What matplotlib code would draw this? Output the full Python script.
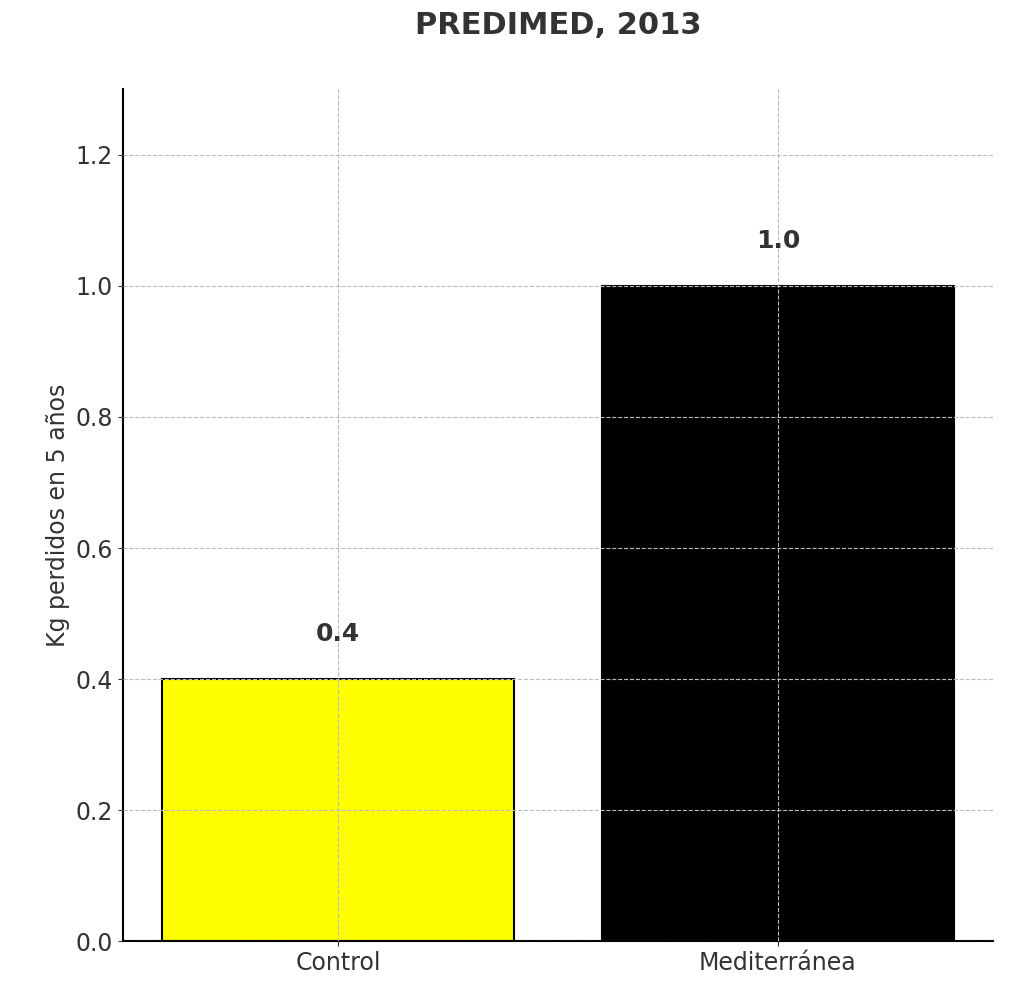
import matplotlib.pyplot as plt

categories = ["Control", "Mediterránea"]
values = [0.4, 1.0]
colors = ["yellow", "black"]

fig, ax = plt.subplots(figsize=(10.24, 9.91), dpi=100)
bars = ax.bar(categories, values, color=colors, edgecolor="black", linewidth=1.5, width=0.8)
for b, v in zip(bars, values):
    ax.text(b.get_x() + b.get_width() / 2, v + 0.05, f"{v:.1f}", ha="center", va="bottom",
            fontsize=18, fontweight="bold", color="#333333")

ax.set_ylim(0, 1.3)
ax.set_ylabel("Kg perdidos en 5 años", fontsize=17, color="#333333")
ax.set_title("PREDIMED, 2013", fontsize=22, fontweight="bold", color="#333333", pad=40)
ax.tick_params(labelsize=17, colors="#333333")
ax.grid(True, linestyle="--", color="#bbbbbb", linewidth=0.8)
ax.set_axisbelow(False)
ax.spines["top"].set_visible(False)
ax.spines["right"].set_visible(False)
ax.spines["left"].set_linewidth(1.5)
ax.spines["bottom"].set_linewidth(1.5)

fig.subplots_adjust(left=0.12, right=0.97, top=0.91, bottom=0.05)
fig.savefig("out.png")
